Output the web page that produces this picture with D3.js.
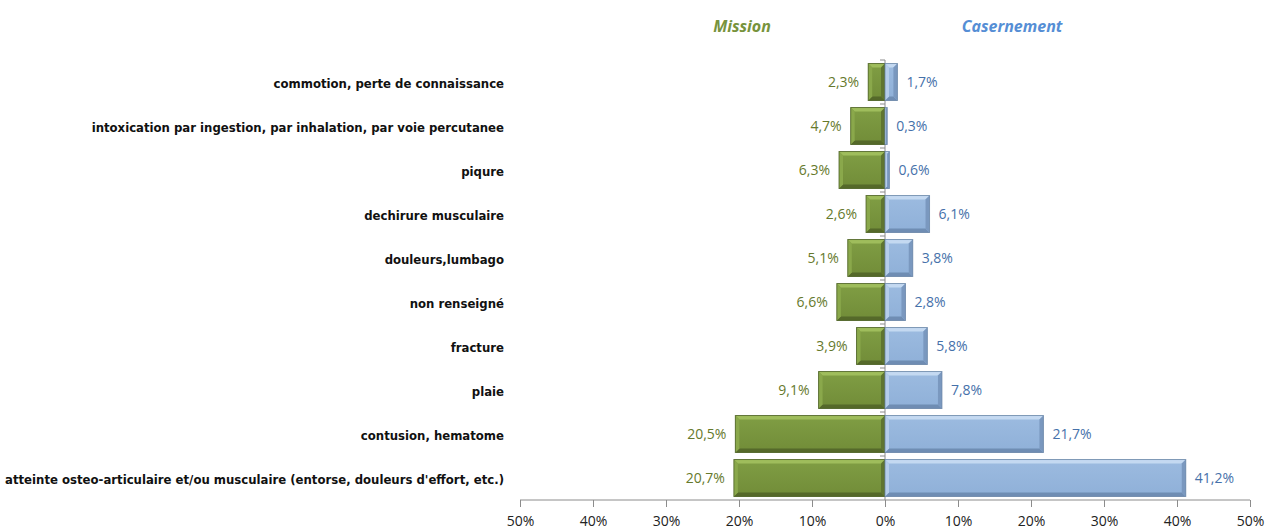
<!DOCTYPE html>
<html><head><meta charset="utf-8">
<script src="https://cdn.jsdelivr.net/npm/d3@7/dist/d3.min.js"></script>
<style>body{margin:0;background:#fff}svg{display:block}</style>
</head><body><svg id="c" width="1265" height="532"></svg>
<script>
const categories = ["commotion, perte de connaissance","intoxication par ingestion, par inhalation, par voie percutanee","piqure","dechirure musculaire","douleurs,lumbago","non renseigné","fracture","plaie","contusion, hematome","atteinte osteo-articulaire et/ou musculaire (entorse, douleurs d'effort, etc.)"];
const mission = [2.3,4.7,6.3,2.6,5.1,6.6,3.9,9.1,20.5,20.7];
const casernement = [1.7,0.3,0.6,6.1,3.8,2.8,5.8,7.8,21.7,41.2];
const tickValues = [-50,-40,-30,-20,-10,0,10,20,30,40,50];
const seriesNames = ["Mission","Casernement"];

const svg = d3.select("#c");
const x = d3.scaleLinear().domain([-50,50]).range([520,1250]);
const y = d3.scaleBand().domain(categories).range([60,500]).paddingInner(0.16).paddingOuter(0.08);
const fmt = v => v.toFixed(1).replace(".", ",") + "%";

const defs = svg.append("defs");
function grad(id, c1, c2){
  const g = defs.append("linearGradient").attr("id",id).attr("x1",0).attr("y1",0).attr("x2",0).attr("y2",1);
  g.append("stop").attr("offset","0%").attr("stop-color",c1);
  g.append("stop").attr("offset","100%").attr("stop-color",c2);
}
grad("gG","#809e44","#718c38");
grad("gB","#9cbbe0","#8fb0d8");

const cols = {
  m:{fill:"url(#gG)", top:"#9fbd5c", bot:"#55692a", left:"#8aa84b", right:"#5f7530", stroke:"#4e6127", text:"#66792c"},
  c:{fill:"url(#gB)", top:"#c4d9f1", bot:"#6f8db3", left:"#b5cdea", right:"#7a98bf", stroke:"#6d87a8", text:"#4671aa"}
};

function bevelBar(g, x0, x1, y0, h, col){
  const b = Math.min(4, (x1-x0)/2, h/2);
  const X0=x0, X1=x1, Y0=y0, Y1=y0+h;
  g.append("rect").attr("x",X0).attr("y",Y0).attr("width",Math.max(0,X1-X0)).attr("height",h).attr("fill",col.fill);
  const poly = (pts,f)=>g.append("polygon").attr("points",pts.map(p=>p.join(",")).join(" ")).attr("fill",f);
  poly([[X0,Y0],[X1,Y0],[X1-b,Y0+b],[X0+b,Y0+b]], col.top);
  poly([[X0,Y1],[X1,Y1],[X1-b,Y1-b],[X0+b,Y1-b]], col.bot);
  poly([[X0,Y0],[X0+b,Y0+b],[X0+b,Y1-b],[X0,Y1]], col.left);
  poly([[X1,Y0],[X1-b,Y0+b],[X1-b,Y1-b],[X1,Y1]], col.right);
  g.append("rect").attr("x",X0).attr("y",Y0).attr("width",Math.max(0,X1-X0)).attr("height",h).attr("fill","none").attr("stroke",col.stroke).attr("stroke-width",1).attr("opacity",0.8);
}

// center axis
const zx = x(0);
svg.append("line").attr("x1",zx).attr("x2",zx).attr("y1",y.range()[0]).attr("y2",500).attr("stroke","#8c8c8c");
categories.forEach((c,i)=>{
  const yy = y.range()[0] + i*y.step();
  svg.append("line").attr("x1",zx-5).attr("x2",zx).attr("y1",yy).attr("y2",yy).attr("stroke","#8c8c8c");
});

const bars = svg.append("g");
categories.forEach((c,i)=>{
  const y0 = y(c), h = y.bandwidth();
  bevelBar(bars, x(-mission[i]), zx, y0, h, cols.m);
  bevelBar(bars, zx, x(casernement[i]), y0, h, cols.c);
  bars.append("text").attr("x",x(-mission[i])-9).attr("y",y0+h/2).attr("dy","0.35em").attr("text-anchor","end")
    .attr("font-family","Open Sans, sans-serif").attr("font-size",14).attr("fill",cols.m.text).text(fmt(mission[i]));
  bars.append("text").attr("x",x(casernement[i])+9).attr("y",y0+h/2).attr("dy","0.35em").attr("text-anchor","start")
    .attr("font-family","Open Sans, sans-serif").attr("font-size",14).attr("fill",cols.c.text).text(fmt(casernement[i]));
});

// category labels
svg.append("g").selectAll("text").data(categories).join("text")
  .attr("x",504).attr("y",d=>y(d)+y.bandwidth()/2+1).attr("dy","0.35em").attr("text-anchor","end")
  .attr("font-family","DejaVu Sans Condensed, DejaVu Sans, sans-serif").attr("font-weight","bold").attr("font-stretch","condensed")
  .attr("font-size",13).attr("fill","#111").text(d=>d);

// bottom axis
const ax = svg.append("g").attr("transform","translate(0,500)")
  .call(d3.axisBottom(x).tickValues(tickValues).tickFormat(d=>Math.abs(d)+"%").tickSize(7).tickPadding(9));
ax.select(".domain").attr("stroke","#8c8c8c").attr("d",`M${x(-50)},0H${x(50)}`);
ax.selectAll(".tick line").attr("stroke","#8c8c8c");
ax.selectAll(".tick text").attr("font-family","Open Sans, sans-serif").attr("font-size",14).attr("fill","#222");

// series titles
svg.append("text").attr("x",742).attr("y",32).attr("text-anchor","middle").attr("font-family","Open Sans, sans-serif")
  .attr("font-weight","bold").attr("font-style","italic").attr("font-size",16).attr("fill","#77933c").text(seriesNames[0]);
svg.append("text").attr("x",1012).attr("y",32).attr("text-anchor","middle").attr("font-family","Open Sans, sans-serif")
  .attr("font-weight","bold").attr("font-style","italic").attr("font-size",16).attr("fill","#558ed5").text(seriesNames[1]);
</script></body></html>
